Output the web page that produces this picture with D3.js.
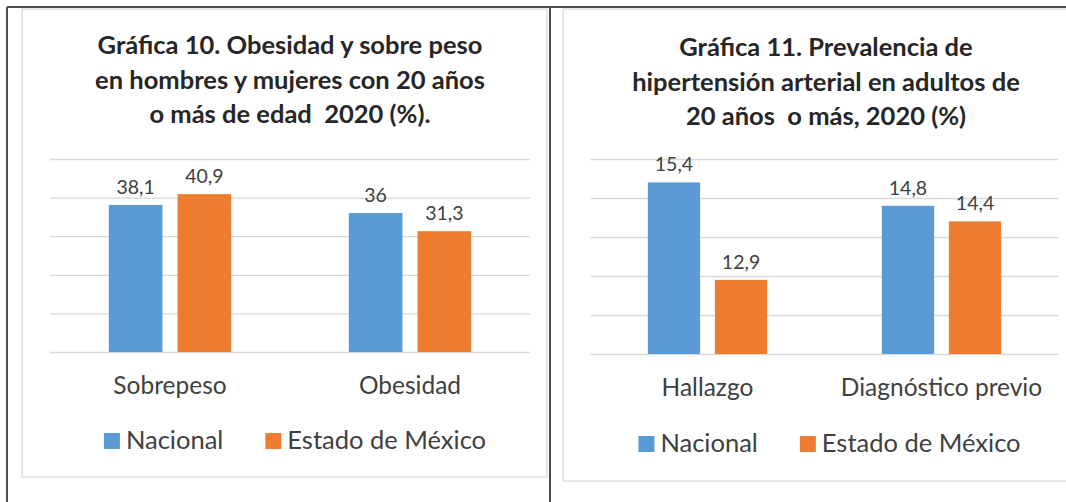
<!DOCTYPE html>
<html lang="es">
<head>
<meta charset="UTF-8">
<title>Gráficas 10 y 11</title>
<script src="https://d3js.org/d3.v7.min.js"></script>
<style>
    body { margin: 0; background: #fff; }
    svg { display: block; font-family: Lato, "Open Sans", sans-serif; }
    .title { font-weight: bold; font-size: 25.5px; fill: #262626; }
    .cat-label { font-size: 24.5px; fill: #404040; }
    .value-label { font-size: 19.5px; fill: #404040; }
    .legend-label { font-size: 25.5px; fill: #404040; }
    .grid line { stroke: #d9d9d9; stroke-width: 1.3; }
    .grid path { display: none; }
</style>
</head>
<body>
<svg id="chart" width="1066" height="502"></svg>
<script>
// ---- data ----
const seriesNames = ["Nacional", "Estado de México"];
const seriesColors = ["#5b9bd5", "#ed7d31"];

const titleObesidad = [
    "Gráfica 10. Obesidad y sobre peso",
    "en hombres y mujeres con 20 años",
    "o más de edad  2020 (%)."
];
const categoriesObesidad = ["Sobrepeso", "Obesidad"];
const nacionalObesidad = [38.1, 36];
const edomexObesidad = [40.9, 31.3];
const yTicksObesidad = [0, 10, 20, 30, 40, 50];

const titleHipertension = [
    "Gráfica 11. Prevalencia de",
    "hipertensión arterial en adultos de",
    "20 años  o más, 2020 (%)"
];
const categoriesHipertension = ["Hallazgo", "Diagnóstico previo"];
const nacionalHipertension = [15.4, 14.8];
const edomexHipertension = [12.9, 14.4];
const yTicksHipertension = [11, 12, 13, 14, 15, 16];

const esLocale = d3.formatLocale({decimal: ",", thousands: ".", grouping: [3], currency: ["", "$"]});
const fmt = esLocale.format(".1~f");

const svg = d3.select("#chart");

// outer table lines
const border = svg.append("g").attr("stroke", "#4d4d4d").attr("stroke-width", 2);
border.append("line").attr("x1", 7).attr("x2", 1066).attr("y1", 7).attr("y2", 7);
border.append("line").attr("x1", 7).attr("x2", 7).attr("y1", 7).attr("y2", 502);
border.append("line").attr("x1", 550).attr("x2", 550).attr("y1", 7).attr("y2", 502);

function drawChart(opts) {
    const g = svg.append("g");

    // chart frame
    g.append("rect")
        .attr("x", opts.frame[0]).attr("y", opts.frame[1])
        .attr("width", opts.frame[2] - opts.frame[0])
        .attr("height", opts.frame[3] - opts.frame[1])
        .attr("fill", "none").attr("stroke", "#d9d9d9").attr("stroke-width", 1.3);

    const x0 = d3.scaleBand()
        .domain(opts.categories)
        .range([opts.left, opts.right]);

    const groupW = x0.bandwidth() * 0.51;
    const x1 = d3.scaleBand()
        .domain(seriesNames)
        .range([0, groupW])
        .paddingInner(0.22);

    const y = d3.scaleLinear()
        .domain(d3.extent(opts.ticks))
        .range([opts.bottom, opts.top]);

    // gridlines
    g.append("g")
        .attr("class", "grid")
        .attr("transform", `translate(${opts.left},0)`)
        .call(d3.axisLeft(y).tickValues(opts.ticks).tickSize(-(opts.right - opts.left)).tickFormat(""));

    // title
    const title = g.append("text")
        .attr("class", "title")
        .attr("text-anchor", "middle");
    opts.title.forEach((line, i) => {
        title.append("tspan")
            .attr("x", opts.titleX)
            .attr("y", opts.titleY + i * 34.5)
            .attr("xml:space", "preserve")
            .text(line);
    });

    const rows = opts.categories.map((c, i) => ({
        cat: c,
        values: [opts.nacional[i], opts.edomex[i]]
    }));

    const groups = g.selectAll(".cat")
        .data(rows)
        .enter().append("g")
        .attr("transform", d => `translate(${x0(d.cat) + (x0.bandwidth() - groupW) / 2},0)`);

    groups.selectAll("rect")
        .data(d => d.values.map((v, j) => ({s: seriesNames[j], v: v, j: j})))
        .enter().append("rect")
        .attr("x", d => x1(d.s))
        .attr("width", x1.bandwidth())
        .attr("y", d => y(d.v))
        .attr("height", d => opts.bottom - y(d.v))
        .attr("fill", d => seriesColors[d.j]);

    groups.selectAll(".value-label")
        .data(d => d.values.map((v, j) => ({s: seriesNames[j], v: v})))
        .enter().append("text")
        .attr("class", "value-label")
        .attr("text-anchor", "middle")
        .attr("x", d => x1(d.s) + x1.bandwidth() / 2)
        .attr("y", d => y(d.v) - 11)
        .text(d => fmt(d.v));

    // category labels
    g.selectAll(".cat-label")
        .data(opts.categories)
        .enter().append("text")
        .attr("class", "cat-label")
        .attr("text-anchor", "middle")
        .attr("x", d => x0(d) + x0.bandwidth() / 2)
        .attr("y", opts.catY)
        .text(d => d);

    // legend
    const legend = g.append("g");
    const items = legend.selectAll("g")
        .data(seriesNames)
        .enter().append("g");
    items.append("rect")
        .attr("width", 16).attr("height", 16)
        .attr("y", opts.legendY - 16)
        .attr("fill", (d, i) => seriesColors[i]);
    items.append("text")
        .attr("class", "legend-label")
        .attr("x", 22)
        .attr("y", opts.legendY)
        .text(d => d);
    let pos = 0;
    items.each(function() {
        d3.select(this).attr("transform", `translate(${pos},0)`);
        pos += this.getBBox().width + 42;
    });
    const legendW = pos - 42;
    legend.attr("transform", `translate(${(opts.left + opts.right) / 2 + 5 - legendW / 2},0)`);
}

drawChart({
    frame: [22, 9, 547, 477],
    left: 50, right: 530, top: 159, bottom: 352,
    ticks: yTicksObesidad,
    categories: categoriesObesidad,
    nacional: nacionalObesidad,
    edomex: edomexObesidad,
    title: titleObesidad, titleX: 290, titleY: 54,
    catY: 394, legendY: 449
});

drawChart({
    frame: [563, 9, 1080, 481],
    left: 590.5, right: 1058.5, top: 159, bottom: 354,
    ticks: yTicksHipertension,
    categories: categoriesHipertension,
    nacional: nacionalHipertension,
    edomex: edomexHipertension,
    title: titleHipertension, titleX: 826, titleY: 56,
    catY: 396, legendY: 452
});
</script>
</body>
</html>
